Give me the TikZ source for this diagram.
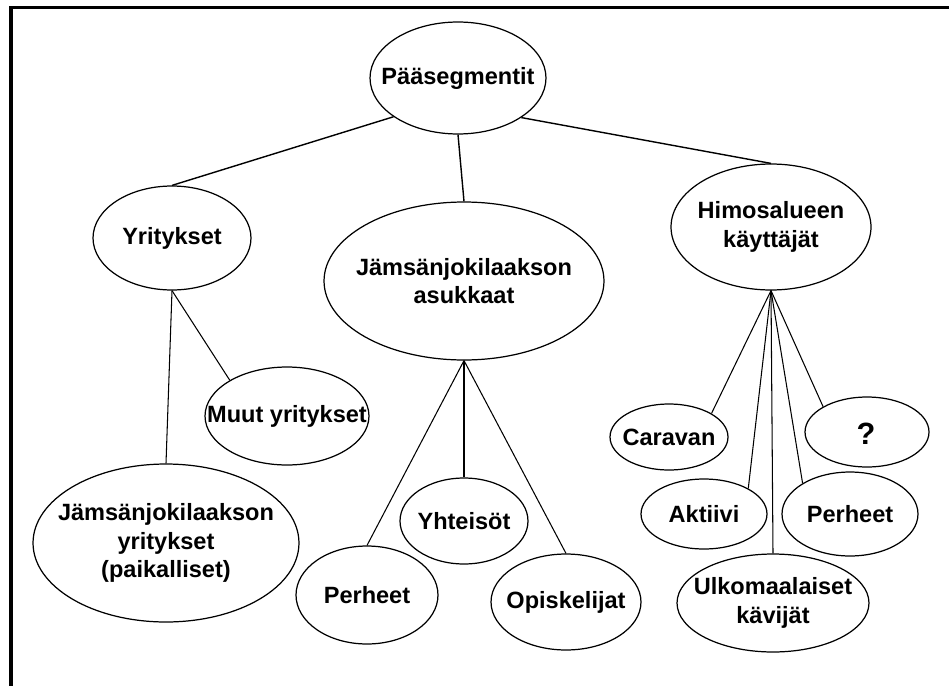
\documentclass[tikz,border=0pt]{standalone}
\usepackage{fontspec}
\setmainfont{Liberation Sans}
\tikzset{
  seg/.style 2 args={ellipse, draw, line width=0.7pt, inner sep=0pt,
    minimum width=#1cm, minimum height=#2cm},
  lbl/.style={font=\bfseries\fontsize{13.4}{16.2}\selectfont, align=center, inner sep=0pt},
  link/.style={line width=0.6pt},
  toplink/.style={line width=0.8pt}
}
\usetikzlibrary{shapes.geometric}
\begin{document}
\begin{tikzpicture}[x=0.02cm, y=-0.02cm]
    \useasboundingbox (0,0) rectangle (949,686);
    % kehys
    \draw[line width=2pt] (949,7.5) -- (11,7.5) -- (11,686);

    % pääsegmentit
    \node[seg={3.52}{2.24}] (paa) at (458,78) {};
    \node[lbl] (paa-t) at (paa) {Pääsegmentit};

    % toinen taso
    \node[seg={3.16}{2.08}] (yri) at (172,238) {};
    \node[lbl] (yri-t) at (yri) {Yritykset};
    \node[seg={5.6}{3.16}] (asuk) at (464,281) {};
    \node[lbl] (asuk-t) at (asuk) {Jämsänjokilaakson\\asukkaat};
    \node[seg={4.0}{2.52}] (himo) at (771,227) {};
    \node[lbl] (himo-t) at (himo) {Himosalueen\\käyttäjät};

    % yritykset
    \node[seg={3.28}{1.96}] (muut) at (287,416) {};
    \node[lbl] (muut-t) at (muut) {Muut yritykset};
    \node[seg={5.32}{3.16}] (jyri) at (166,543) {};
    \node[lbl] (jyri-t) at (jyri) {Jämsänjokilaakson\\yritykset\\(paikalliset)};

    % asukkaat
    \node[seg={2.84}{1.96}] (perA) at (367,595) {};
    \node[lbl] (perA-t) at (perA) {Perheet};
    \node[seg={2.56}{1.72}] (yht) at (464,521) {};
    \node[lbl] (yht-t) at (yht) {Yhteisöt};
    \node[seg={3.0}{1.92}] (opi) at (566,602) {};
    \node[lbl] (opi-t) at (opi) {Opiskelijat};

    % Himosalueen käyttäjät
    \node[seg={2.36}{1.32}] (car) at (669,437) {};
    \node[lbl] (car-t) at (car) {Caravan};
    \node[seg={2.48}{1.40}] (kys) at (867,432) {};
    \node[lbl, font=\bfseries\fontsize{17.5}{20}\selectfont] (kys-t) at (866,434) {?};
    \node[seg={2.52}{1.40}] (akt) at (704,514) {};
    \node[lbl] (akt-t) at (akt) {Aktiivi};
    \node[seg={2.72}{1.68}] (perB) at (850,514) {};
    \node[lbl] (perB-t) at (perB) {Perheet};
    \node[seg={3.84}{1.96}] (ulk) at (773,603) {};
    \node[lbl] (ulk-t) at (ulk) {Ulkomaalaiset\\kävijät};

    % yhteydet
    \draw[toplink] (paa.211.8) -- (yri.north);
    \draw[toplink] (paa.south) -- (asuk.north);
    \draw[toplink] (paa.328) -- (himo.north);

    \draw[link] (yri.south) -- (jyri.north);
    \draw[link] (yri.south) -- (muut.148);

    \draw[link] (asuk.south) -- (perA.north);
    \draw[link] (asuk.south) -- (yht.north);
    \draw[link] (asuk.south) -- (opi.north);

    \draw[link] (himo.south) -- (car.29);
    \draw[link] (himo.south) -- (akt.30);
    \draw[link] (himo.south) -- (ulk.north);
    \draw[link] (himo.south) -- (perB.147);
    \draw[link] (himo.south) -- (kys.150);
\end{tikzpicture}
\end{document}
